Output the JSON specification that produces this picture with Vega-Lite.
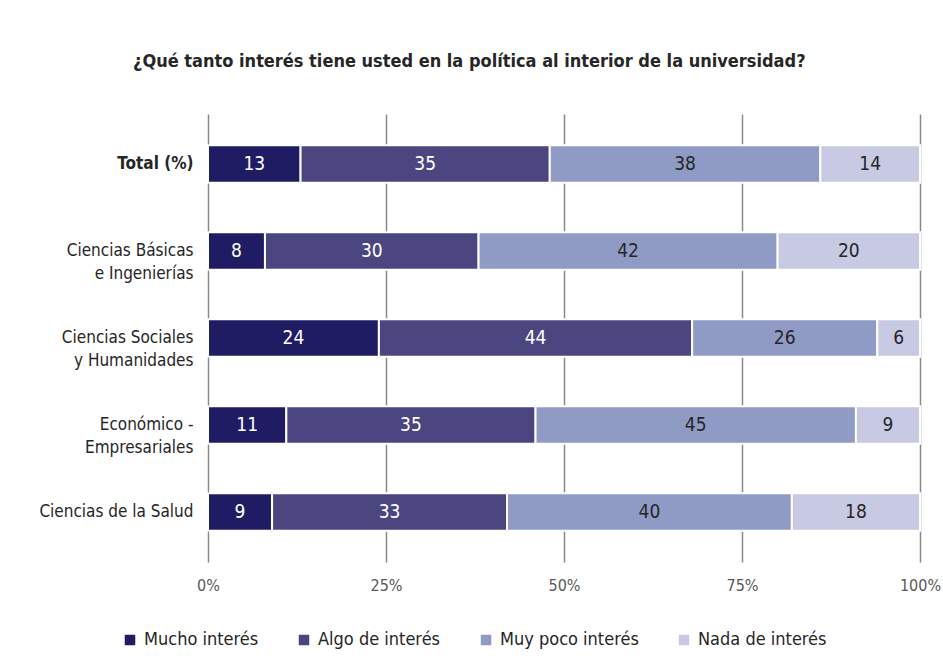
{
  "$schema": "https://vega.github.io/schema/vega-lite/v6.json",
  "width": 712,
  "height": 448,
  "autosize": {"type": "pad"},
  "padding": {"left": 8, "top": 53, "right": 15, "bottom": 10},
  "background": "white",
  "config": {
    "font": "DejaVu Sans Condensed, sans-serif",
    "view": {"stroke": null}
  },
  "title": {
    "text": "¿Qué tanto interés tiene usted en la política al interior de la universidad?",
    "fontSize": 18,
    "fontWeight": "bold",
    "color": "#262626",
    "anchor": "middle",
    "frame": "bounds",
    "offset": 43,
    "dx": -5
  },
  "data": {
    "values": [
      {"cat": "Total (%)", "resp": "Mucho interés", "v": 13, "o": 1},
      {"cat": "Total (%)", "resp": "Algo de interés", "v": 35, "o": 2},
      {"cat": "Total (%)", "resp": "Muy poco interés", "v": 38, "o": 3},
      {"cat": "Total (%)", "resp": "Nada de interés", "v": 14, "o": 4},
      {"cat": "Ciencias Básicas|e Ingenierías", "resp": "Mucho interés", "v": 8, "o": 1},
      {"cat": "Ciencias Básicas|e Ingenierías", "resp": "Algo de interés", "v": 30, "o": 2},
      {"cat": "Ciencias Básicas|e Ingenierías", "resp": "Muy poco interés", "v": 42, "o": 3},
      {"cat": "Ciencias Básicas|e Ingenierías", "resp": "Nada de interés", "v": 20, "o": 4},
      {"cat": "Ciencias Sociales|y Humanidades", "resp": "Mucho interés", "v": 24, "o": 1},
      {"cat": "Ciencias Sociales|y Humanidades", "resp": "Algo de interés", "v": 44, "o": 2},
      {"cat": "Ciencias Sociales|y Humanidades", "resp": "Muy poco interés", "v": 26, "o": 3},
      {"cat": "Ciencias Sociales|y Humanidades", "resp": "Nada de interés", "v": 6, "o": 4},
      {"cat": "Económico -|Empresariales", "resp": "Mucho interés", "v": 11, "o": 1},
      {"cat": "Económico -|Empresariales", "resp": "Algo de interés", "v": 35, "o": 2},
      {"cat": "Económico -|Empresariales", "resp": "Muy poco interés", "v": 45, "o": 3},
      {"cat": "Económico -|Empresariales", "resp": "Nada de interés", "v": 9, "o": 4},
      {"cat": "Ciencias de la Salud", "resp": "Mucho interés", "v": 9, "o": 1},
      {"cat": "Ciencias de la Salud", "resp": "Algo de interés", "v": 33, "o": 2},
      {"cat": "Ciencias de la Salud", "resp": "Muy poco interés", "v": 40, "o": 3},
      {"cat": "Ciencias de la Salud", "resp": "Nada de interés", "v": 18, "o": 4}
    ]
  },
  "transform": [
    {"stack": "v", "groupby": ["cat"], "sort": [{"field": "o", "order": "ascending"}], "as": ["x0", "x1"]},
    {"calculate": "(datum.x0 + datum.x1) / 2", "as": "mid"}
  ],
  "encoding": {
    "y": {
      "field": "cat",
      "type": "nominal",
      "sort": null,
      "scale": {"paddingInner": 0.57, "paddingOuter": 0.36},
      "axis": {
        "title": null,
        "domain": false,
        "ticks": false,
        "labelPadding": 15,
        "minExtent": 200,
        "maxExtent": 200,
        "labelFontSize": 17,
        "labelLineHeight": 23,
        "labelColor": "#262626",
        "labelLimit": 300,
        "labelExpr": "split(datum.label, '|')",
        "labelFontWeight": {"condition": {"test": "datum.value === 'Total (%)'", "value": "bold"}, "value": "normal"}
      }
    }
  },
  "layer": [
    {
      "mark": {"type": "bar", "stroke": "white", "strokeWidth": 2},
      "encoding": {
        "x": {
          "field": "x0",
          "type": "quantitative",
          "scale": {"domain": [0, 100], "nice": false},
          "axis": {
            "title": null,
            "values": [0, 25, 50, 75, 100],
            "labelExpr": "datum.value + '%'",
            "labelFlush": false,
            "grid": true,
            "gridColor": "#8a8a8a",
            "gridWidth": 1.5,
            "domain": false,
            "ticks": false,
            "labelPadding": 15,
            "labelFontSize": 16,
            "labelColor": "#595959"
          }
        },
        "x2": {"field": "x1"},
        "color": {
          "field": "resp",
          "type": "nominal",
          "sort": ["Mucho interés", "Algo de interés", "Muy poco interés", "Nada de interés"],
          "scale": {
            "domain": ["Mucho interés", "Algo de interés", "Muy poco interés", "Nada de interés"],
            "range": ["#201c64", "#4b467f", "#8f9bc5", "#c8c9e3"]
          },
          "legend": {
            "title": null,
            "orient": "none",
            "legendX": -87,
            "legendY": 517,
            "direction": "horizontal",
            "columns": 4,
            "columnPadding": 36,
            "symbolType": "square",
            "symbolSize": 110,
            "symbolStrokeWidth": 0,
            "labelFontSize": 18,
            "labelColor": "#262626",
            "labelOffset": 5
          }
        }
      }
    },
    {
      "mark": {"type": "text", "fontSize": 19, "baseline": "middle", "align": "center"},
      "encoding": {
        "x": {"field": "mid", "type": "quantitative"},
        "text": {"field": "v", "type": "quantitative"},
        "color": {"condition": {"test": "datum.o <= 2", "value": "white"}, "value": "#262626"}
      }
    }
  ]
}
